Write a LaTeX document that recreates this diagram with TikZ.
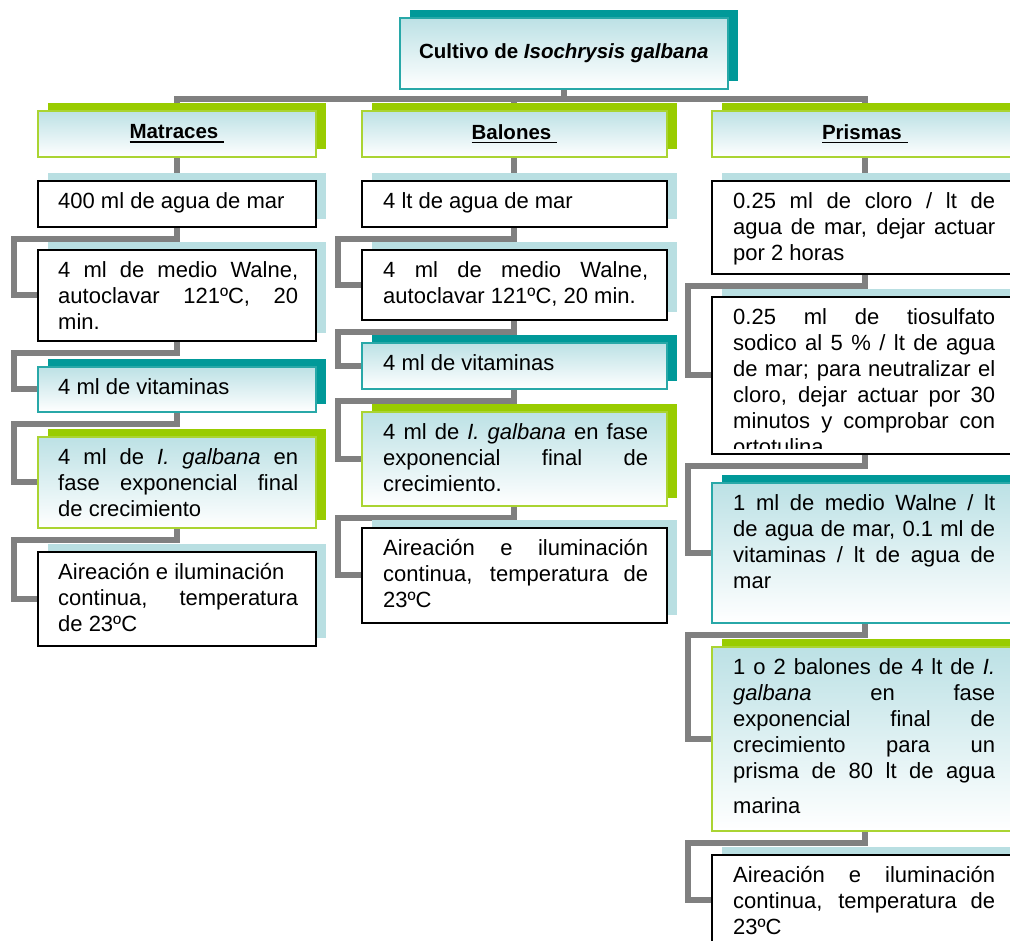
\documentclass[tikz,border=0pt]{standalone}
\usepackage{fontspec}
\setmainfont{Liberation Sans}
\usetikzlibrary{positioning,shadows,backgrounds}

\definecolor{tealdark}{RGB}{0,153,153}
\definecolor{tealline}{RGB}{40,168,168}
\definecolor{greendark}{RGB}{153,204,0}
\definecolor{greenline}{RGB}{170,212,50}
\definecolor{skyshade}{RGB}{185,223,226}
\definecolor{skyfill}{RGB}{188,225,229}
\definecolor{linegray}{RGB}{128,128,128}

\newcommand{\hdrfont}{\bfseries\fontsize{20.5}{24}\selectfont}
\newcommand{\hdrline}[1]{\setbox0\hbox{#1}\rlap{\rule[-4pt]{\wd0}{1.6pt}}\box0}

\tikzset{
	conn/.style={draw=linegray, line width=6pt},
	box/.style={rectangle, anchor=north west, inner sep=0pt, line width=1.6pt},
	plainbox/.style={box, draw=black, fill=white,
		general shadow={fill=skyshade, shadow xshift=10pt, shadow yshift=8pt}},
	tealbox/.style={box, draw=tealline, top color=skyfill, bottom color=white,
		general shadow={fill=tealdark, shadow xshift=10pt, shadow yshift=8pt}},
	greenbox/.style={box, draw=greenline, top color=skyfill, bottom color=white,
		general shadow={fill=greendark, shadow xshift=10pt, shadow yshift=8pt}},
	boxtext/.style={anchor=north west, inner sep=0pt, align=justify,
		font=\fontsize{22}{26}\selectfont, execute at begin node=\strut},
}

\begin{document}
\begin{tikzpicture}[x=1pt, y=-1pt]
	
	\useasboundingbox (0,0) rectangle (1010,941);
	\clip (0,0) rectangle (1010,941);
	
	% title and headers
	\node[tealbox, minimum width=328pt, minimum height=71pt, font=\hdrfont] (top) at (399,17) {\raisebox{5pt}{Cultivo de \textit{Isochrysis galbana}}};
	
	\node[greenbox, minimum width=278pt, minimum height=46pt, font=\hdrfont] (mat) at (37,110) {\hdrline{Matraces\ }};
	\node[greenbox, minimum width=305pt, minimum height=46pt, font=\hdrfont] (bal) at (361,110) {\hdrline{Balones\ }};
	\node[greenbox, minimum width=306pt, minimum height=46pt, font=\hdrfont] (pri) at (711,110) {\hdrline{Prismas\ }};
	
	% Matraces
	\node[plainbox, minimum width=278pt, minimum height=46pt] (m1) at (37,180) {};
	\node[plainbox, minimum width=278pt, minimum height=91pt] (m2) at (37,249) {};
	\node[tealbox, minimum width=278pt, minimum height=45pt] (m3) at (37,366) {};
	\node[greenbox, minimum width=278pt, minimum height=91pt] (m4) at (37,436) {};
	\node[plainbox, minimum width=278pt, minimum height=94pt] (m5) at (37,551) {};
	
	\node[boxtext, text width=240pt, below right=10pt and 21pt of m1.north west] (m1t) {400 ml de agua de mar};
	\node[boxtext, text width=240pt, below right=10pt and 21pt of m2.north west] (m2t) {4 ml de medio Walne,\linebreak autoclavar 121ºC, 20\linebreak min.};
	\node[boxtext, text width=240pt, below right=10pt and 21pt of m3.north west] (m3t) {4 ml de vitaminas};
	\node[boxtext, text width=240pt, below right=10pt and 21pt of m4.north west] (m4t) {4 ml de \textit{I. galbana} en\linebreak fase exponencial final\linebreak de crecimiento};
	\node[boxtext, text width=240pt, below right=10pt and 21pt of m5.north west] (m5t) {Aireación e iluminación\newline continua, temperatura\linebreak de 23ºC};
	
	% Balones
	\node[plainbox, minimum width=305pt, minimum height=46pt] (b1) at (361,180) {};
	\node[plainbox, minimum width=305pt, minimum height=70pt] (b2) at (361,249) {};
	\node[tealbox, minimum width=305pt, minimum height=46pt] (b3) at (361,342) {};
	\node[greenbox, minimum width=305pt, minimum height=94pt] (b4) at (361,411) {};
	\node[plainbox, minimum width=305pt, minimum height=95pt] (b5) at (361,527) {};
	
	\node[boxtext, text width=265pt, below right=10pt and 22pt of b1.north west] (b1t) {4 lt de agua de mar};
	\node[boxtext, text width=265pt, below right=10pt and 22pt of b2.north west] (b2t) {4 ml de medio Walne,\linebreak autoclavar 121ºC, 20 min.};
	\node[boxtext, text width=265pt, below right=10pt and 22pt of b3.north west] (b3t) {4 ml de vitaminas};
	\node[boxtext, text width=265pt, below right=10pt and 22pt of b4.north west] (b4t) {4 ml de \textit{I. galbana} en fase\linebreak exponencial final de\linebreak crecimiento.};
	\node[boxtext, text width=265pt, below right=10pt and 22pt of b5.north west] (b5t) {Aireación e iluminación\linebreak continua, temperatura de\linebreak 23ºC};
	
	% Prismas
	\node[plainbox, minimum width=306pt, minimum height=93pt] (p1) at (711,180) {};
	\node[plainbox, minimum width=306pt, minimum height=157pt] (p2) at (711,296) {};
	\node[tealbox, minimum width=306pt, minimum height=140pt] (p3) at (711,482) {};
	\node[greenbox, minimum width=306pt, minimum height=184pt] (p4) at (711,646) {};
	\node[plainbox, minimum width=306pt, minimum height=90pt] (p5) at (711,854) {};
	
	\node[boxtext, text width=262pt, below right=10pt and 22pt of p1.north west] (p1t) {0.25 ml de cloro / lt de\linebreak agua de mar, dejar actuar\linebreak por 2 horas};
	\begin{scope}
		\clip (p2.north west) rectangle ([yshift=6pt]p2.south east);
		\node[boxtext, text width=262pt, below right=10pt and 22pt of p2.north west] (p2t) {0.25 ml de tiosulfato\linebreak sodico al 5 \% / lt de agua\linebreak de mar; para neutralizar el\linebreak cloro, dejar actuar por 30\linebreak minutos y comprobar con\linebreak ortotulina};
	\end{scope}
	\node[boxtext, text width=262pt, below right=10pt and 22pt of p3.north west] (p3t) {1 ml de medio Walne / lt\linebreak de agua de mar, 0.1 ml de\linebreak vitaminas / lt de agua de\linebreak mar};
	\node[boxtext, text width=262pt, below right=10pt and 22pt of p4.north west] (p4t) {1 o 2 balones de 4 lt de \textit{I.}\linebreak \textit{galbana} en fase\linebreak exponencial final de\linebreak crecimiento para un\linebreak prisma de 80 lt de agua\vspace{9pt}\linebreak marina};
	\node[boxtext, text width=262pt, below right=10pt and 22pt of p5.north west] (p5t) {Aireación e iluminación\linebreak continua, temperatura de\linebreak 23ºC};
	
	% connectors
	\begin{scope}[on background layer]
		\draw[conn] (top.south) -- ++(0,9) coordinate (hub);
		\draw[conn] (hub) -| (mat.north);
		\draw[conn] (hub) -| (bal.north);
		\draw[conn] (hub) -| (pri.north);
		\draw[conn] (mat.south) -- (m1.north);
		\draw[conn] (bal.south) -- (b1.north);
		\draw[conn] (pri.south) -- (p1.north);
		\foreach \a/\b in {m1/m2, m2/m3, m3/m4, m4/m5, b1/b2, b2/b3, b3/b4, b4/b5, p1/p2, p2/p3, p3/p4, p4/p5}
			\draw[conn] (\a.south) -- ++(0,11) -| ([xshift=-23pt]\b.west) -- (\b.west);
	\end{scope}
	
\end{tikzpicture}
\end{document}
